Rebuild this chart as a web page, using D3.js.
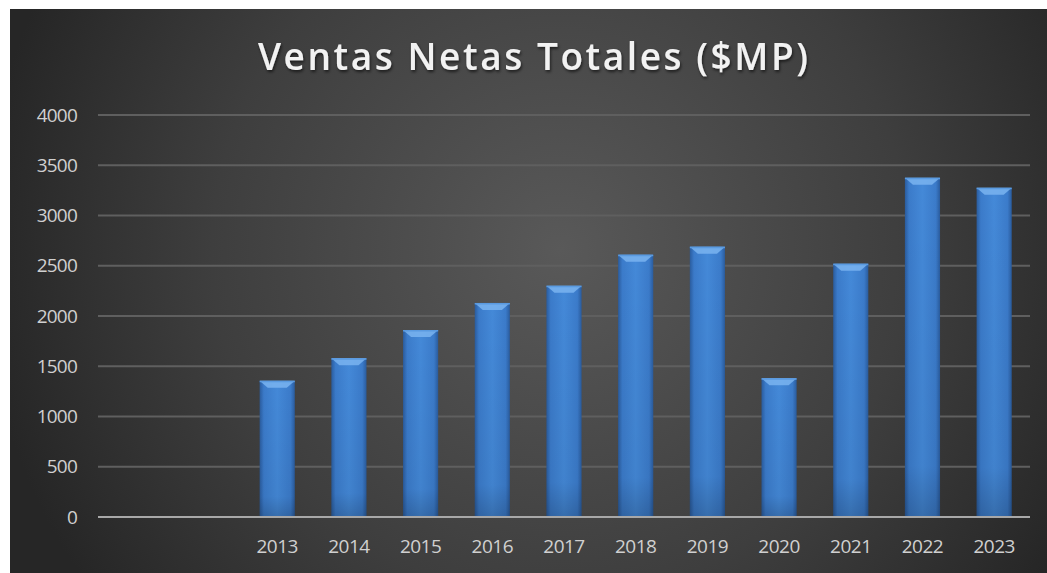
<!DOCTYPE html>
<html>
<head>
<meta charset="utf-8">
<script src="https://cdn.jsdelivr.net/npm/d3@7"></script>
<style>
  body { margin: 0; background: #fff; }
  svg { display: block; }
</style>
</head>
<body>
<div id="chart"></div>
<script>
var years = ["", " ", "2013", "2014", "2015", "2016", "2017", "2018", "2019", "2020", "2021", "2022", "2023"];
var ventas = [null, null, 1355, 1580, 1860, 2130, 2300, 2610, 2690, 1380, 2520, 3375, 3275];
var yTicks = [0, 500, 1000, 1500, 2000, 2500, 3000, 3500, 4000];

var svgWidth = 1047;
var svgHeight = 573;

var margin = { top: 115, right: 17, bottom: 56, left: 98 };
var width = svgWidth - margin.left - margin.right;
var height = svgHeight - margin.top - margin.bottom;

var svg = d3.select("#chart")
  .append("svg")
  .attr("width", svgWidth)
  .attr("height", svgHeight);

var defs = svg.append("defs");

var bg = defs.append("radialGradient")
  .attr("id", "bg")
  .attr("gradientUnits", "userSpaceOnUse")
  .attr("cx", 560).attr("cy", 250).attr("r", 580);
bg.append("stop").attr("offset", "0%").attr("stop-color", "#595959");
bg.append("stop").attr("offset", "60%").attr("stop-color", "#3e3e3e");
bg.append("stop").attr("offset", "100%").attr("stop-color", "#262626");

var barGrad = defs.append("linearGradient")
  .attr("id", "bar")
  .attr("x1", "0%").attr("x2", "100%").attr("y1", "0%").attr("y2", "0%");
barGrad.append("stop").attr("offset", "0%").attr("stop-color", "#2a5c9e");
barGrad.append("stop").attr("offset", "12%").attr("stop-color", "#3b7bca");
barGrad.append("stop").attr("offset", "50%").attr("stop-color", "#4489d8");
barGrad.append("stop").attr("offset", "88%").attr("stop-color", "#3b7bca");
barGrad.append("stop").attr("offset", "100%").attr("stop-color", "#2a5c9e");

var shade = defs.append("linearGradient")
  .attr("id", "shade")
  .attr("x1", "0%").attr("x2", "0%").attr("y1", "0%").attr("y2", "100%");
shade.append("stop").attr("offset", "0%").attr("stop-color", "#000").attr("stop-opacity", 0);
shade.append("stop").attr("offset", "85%").attr("stop-color", "#000").attr("stop-opacity", 0.05);
shade.append("stop").attr("offset", "100%").attr("stop-color", "#000").attr("stop-opacity", 0.2);

var glow = defs.append("filter").attr("id", "tshadow")
  .attr("x", "-10%").attr("y", "-30%").attr("width", "120%").attr("height", "160%");
glow.append("feDropShadow")
  .attr("dx", 1).attr("dy", 2).attr("stdDeviation", 1.5)
  .attr("flood-color", "#000").attr("flood-opacity", 0.6);

svg.append("rect")
  .attr("x", 10).attr("y", 9)
  .attr("width", svgWidth - 10).attr("height", svgHeight - 9)
  .attr("fill", "url(#bg)");

svg.append("text")
  .attr("x", 533)
  .attr("y", 70)
  .attr("text-anchor", "middle")
  .attr("font-family", "Open Sans, sans-serif")
  .attr("font-size", 37)
  .attr("font-weight", 600)
  .attr("fill", "#f2f2f2")
  .attr("textLength", 550)
  .attr("lengthAdjust", "spacing")
  .attr("filter", "url(#tshadow)")
  .text("Ventas Netas Totales ($MP)");

var chartGroup = svg.append("g")
  .attr("transform", `translate(${margin.left}, ${margin.top})`);

var xScale = d3.scaleBand()
  .domain(years)
  .range([0, width])
  .paddingInner(0.51)
  .paddingOuter(0.255);

var yScale = d3.scaleLinear()
  .domain([0, 4000])
  .range([height, 0]);

// gridlines
chartGroup.append("g")
  .selectAll("line")
  .data(yTicks.filter(d => d > 0))
  .enter()
  .append("line")
  .attr("x1", 0).attr("x2", width)
  .attr("y1", d => yScale(d)).attr("y2", d => yScale(d))
  .attr("stroke", "#5f5f5f")
  .attr("stroke-width", 2);

var leftAxis = d3.axisLeft(yScale).tickValues(yTicks).tickFormat(d3.format("d")).tickSize(0).tickPadding(21);
var yAxis = chartGroup.append("g").call(leftAxis);
yAxis.select(".domain").remove();
yAxis.selectAll("text")
  .attr("fill", "#d0d0d0")
  .attr("font-family", "Open Sans, sans-serif")
  .attr("font-size", 19)
  .attr("letter-spacing", -0.8);

// bars
var bars = chartGroup.selectAll(".bar")
  .data(years.map((y, i) => ({ year: y, value: ventas[i] })).filter(d => d.value !== null))
  .enter()
  .append("g")
  .attr("class", "bar");

bars.append("rect")
  .attr("x", d => xScale(d.year))
  .attr("y", d => yScale(d.value))
  .attr("width", xScale.bandwidth())
  .attr("height", d => height - yScale(d.value))
  .attr("fill", "url(#bar)");

bars.append("rect")
  .attr("x", d => xScale(d.year))
  .attr("y", d => yScale(d.value))
  .attr("width", xScale.bandwidth())
  .attr("height", d => height - yScale(d.value))
  .attr("fill", "url(#shade)");

// bevel on top
bars.append("path")
  .attr("d", function(d) {
    var x0 = xScale(d.year), w = xScale.bandwidth(), y0 = yScale(d.value);
    return `M${x0},${y0} L${x0 + w},${y0} L${x0 + w - 8},${y0 + 7} L${x0 + 8},${y0 + 7} Z`;
  })
  .attr("fill", "#7ab4f0")
  .attr("opacity", 0.85);

bars.append("path")
  .attr("d", function(d) {
    var x0 = xScale(d.year), w = xScale.bandwidth(), y0 = yScale(d.value);
    return `M${x0},${y0} L${x0 + w},${y0} L${x0 + w},${y0 + 1.5} L${x0},${y0 + 1.5} Z`;
  })
  .attr("fill", "#5a9ae0");

// x axis line
chartGroup.append("line")
  .attr("x1", 0).attr("x2", width)
  .attr("y1", height).attr("y2", height)
  .attr("stroke", "#a8a8a8")
  .attr("stroke-width", 2);

var bottomAxis = d3.axisBottom(xScale).tickSize(0).tickPadding(23);
var xAxis = chartGroup.append("g")
  .attr("transform", `translate(0, ${height})`)
  .call(bottomAxis);
xAxis.select(".domain").remove();
xAxis.selectAll("text")
  .attr("fill", "#d0d0d0")
  .attr("font-family", "Open Sans, sans-serif")
  .attr("font-size", 19)
  .attr("letter-spacing", -0.5);
</script>
</body>
</html>
